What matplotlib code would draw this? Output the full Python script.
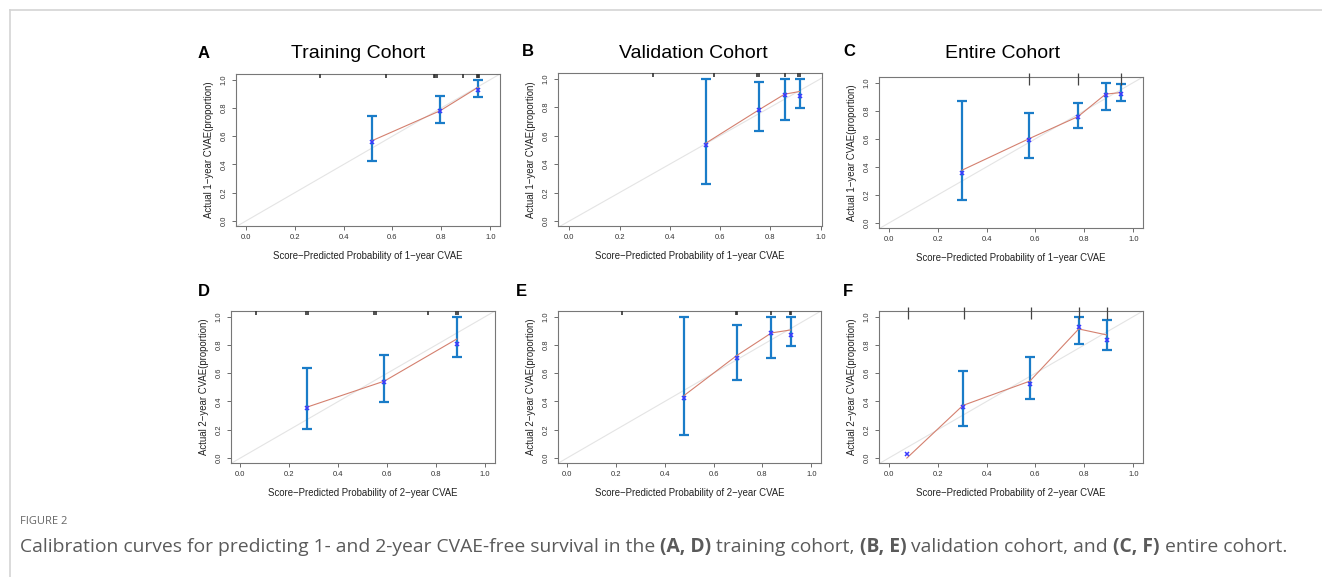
import numpy as np
import matplotlib.pyplot as plt
from matplotlib.lines import Line2D

plt.rcParams['font.family'] = ['Liberation Sans', 'DejaVu Sans']

W, H = 1322, 577

# --- datos ---
# A: training, 1 year
a_pred = [0.515, 0.795, 0.950]
a_obs = [0.558, 0.778, 0.929]
a_app = [0.567, 0.780, 0.946]
a_lo = [0.423, 0.695, 0.877]
a_hi = [0.740, 0.882, 1.000]
a_rug = [0.303, 0.575, 0.770, 0.776, 0.782, 0.887, 0.945, 0.950, 0.955]

# B: validation, 1 year
b_pred = [0.542, 0.753, 0.856, 0.916]
b_obs = [0.537, 0.778, 0.887, 0.875]
b_app = [0.546, 0.780, 0.891, 0.910]
b_lo = [0.258, 0.629, 0.707, 0.797]
b_hi = [1.000, 0.976, 1.000, 1.000]
b_rug = [0.334, 0.575, 0.748, 0.755, 0.856, 0.911, 0.918]

# C: entire, 1 year
c_pred = [0.299, 0.573, 0.774, 0.887, 0.948]
c_obs = [0.358, 0.591, 0.753, 0.913, 0.920]
c_app = [0.376, 0.600, 0.758, 0.918, 0.929]
c_lo = [0.162, 0.461, 0.675, 0.805, 0.871]
c_hi = [0.866, 0.784, 0.854, 0.998, 0.988]
c_rug = [0.575, 0.776, 0.948]

# D: training, 2 year
d_pred = [0.272, 0.588, 0.884]
d_obs = [0.351, 0.536, 0.807]
d_app = [0.360, 0.544, 0.842]
d_lo = [0.202, 0.395, 0.713]
d_hi = [0.635, 0.729, 0.995]
d_rug = [0.065, 0.268, 0.275, 0.547, 0.555, 0.765, 0.880, 0.887]

# E: validation, 2 year
e_pred = [0.479, 0.695, 0.837, 0.916]
e_obs = [0.424, 0.708, 0.882, 0.871]
e_app = [0.442, 0.725, 0.885, 0.906]
e_lo = [0.165, 0.555, 0.706, 0.795]
e_hi = [1.000, 0.944, 1.000, 1.000]
e_rug = [0.227, 0.692, 0.698, 0.837, 0.913, 0.919]

# F: entire, 2 year (primer punto sin barra visible)
f_pred = [0.074, 0.303, 0.577, 0.777, 0.891]
f_obs = [0.026, 0.360, 0.525, 0.925, 0.835]
f_app = [0.000, 0.372, 0.544, 0.913, 0.871]
f_lo = [0.026, 0.224, 0.416, 0.807, 0.767]
f_hi = [0.026, 0.619, 0.713, 1.000, 0.979]
f_rug = [0.078, 0.306, 0.580, 0.777, 0.891]

titles = ['Training Cohort', 'Validation Cohort', 'Entire Cohort']
ylab = ['Actual 1\u2212year CVAE(proportion)', 'Actual 2\u2212year CVAE(proportion)']
xlab = ['Score\u2212Predicted Probability of 1\u2212year CVAE',
        'Score\u2212Predicted Probability of 2\u2212year CVAE']

fig = plt.figure(figsize=(W / 100, H / 100), dpi=100)


def px_axes(l, t, r, b):
    return fig.add_axes([l / W, 1 - b / H, (r - l) / W, (b - t) / H])


def panel(box, xlim, pred, obs, app, lo, hi, rug, row, rug_out=False):
    ax = px_axes(*box)
    ax.set_xlim(*xlim)
    ax.set_ylim(-0.035, 1.04)
    ax.axline((0, 0), (1, 1), color='#e4e4e4', lw=0.8, zorder=1)
    pred, obs, lo, hi = map(np.array, (pred, obs, lo, hi))
    has_bar = hi > lo
    yerr = [obs[has_bar] - lo[has_bar], hi[has_bar] - obs[has_bar]]
    ax.errorbar(pred[has_bar], obs[has_bar], yerr=yerr, fmt='none', ecolor='#1a7cc8',
                elinewidth=1.6, capsize=3.5, capthick=1.6, zorder=2)
    ax.plot(pred, app, color='#d4806f', lw=0.8, zorder=3)
    ax.plot(pred, obs, 'x', color='#3a3aff', ms=3.5, mew=1.1, zorder=4)
    if rug_out:
        ax.vlines(rug, 0.985, 1.07, color='#444444', lw=0.9, clip_on=False, zorder=5)
    else:
        ax.vlines(rug, 1.01, 1.04, color='#333333', lw=1.2, zorder=5)
    ticks = [0, 0.2, 0.4, 0.6, 0.8, 1.0]
    ax.set_xticks(ticks)
    ax.set_yticks(ticks)
    ax.set_xticklabels([f'{t:.1f}' for t in ticks])
    ax.set_yticklabels([f'{t:.1f}' for t in ticks], rotation=90, va='center')
    ax.tick_params(labelsize=5.5, length=3, width=0.6, color='#555555',
                   labelcolor='#333333', pad=3)
    for s in ax.spines.values():
        s.set_color('#777777')
        s.set_linewidth(0.8)
    ax.set_xlabel(xlab[row], fontsize=6.9, labelpad=7, color='#222222')
    ax.set_ylabel(ylab[row], fontsize=6.9, labelpad=5, color='#222222')
    return ax


panel((236, 74, 500, 226), (-0.04, 1.04), a_pred, a_obs, a_app, a_lo, a_hi, a_rug, 0)
panel((558, 73, 822, 226), (-0.045, 1.005), b_pred, b_obs, b_app, b_lo, b_hi, b_rug, 0)
panel((879, 77, 1143, 228), (-0.04, 1.04), c_pred, c_obs, c_app, c_lo, c_hi, c_rug, 0, True)
panel((231, 311, 495, 463), (-0.038, 1.04), d_pred, d_obs, d_app, d_lo, d_hi, d_rug, 1)
panel((558, 311, 821, 463), (-0.037, 1.04), e_pred, e_obs, e_app, e_lo, e_hi, e_rug, 1)
panel((879, 311, 1143, 463), (-0.04, 1.04), f_pred, f_obs, f_app, f_lo, f_hi, f_rug, 1, True)

# titulos y letras
for x, t in zip([358, 693, 1003], titles):
    fig.text(x / W, 1 - 54 / H, t, fontsize=14, ha='center', va='center')
for x, y, l in [(204, 54, 'A'), (528, 52, 'B'), (849, 52, 'C'),
                (204, 292, 'D'), (521, 292, 'E'), (848, 292, 'F')]:
    fig.text(x / W, 1 - y / H, l, fontsize=12, weight='bold', ha='center', va='center')

# marco
fig.add_artist(Line2D([10 / W, 1], [1 - 10 / H, 1 - 10 / H], color='#d4d4d4', lw=1.2))
fig.add_artist(Line2D([10 / W, 10 / W], [0, 1 - 10 / H], color='#d4d4d4', lw=1.2))

# pie de figura
cap_font = ['Open Sans', 'DejaVu Sans']
fig.text(20 / W, 1 - 521 / H, 'FIGURE 2', fontsize=8, color='#666666',
         family=cap_font, va='center')
parts = [('Calibration curves for predicting 1- and 2-year CVAE-free survival in the ', 'normal'),
         ('(A, D)', 'bold'), (' training cohort, ', 'normal'), ('(B, E)', 'bold'),
         (' validation cohort, and ', 'normal'), ('(C, F)', 'bold'), (' entire cohort.', 'normal')]
renderer = fig.canvas.get_renderer()
xpos = 20
for txt, wt in parts:
    t = fig.text(xpos / W, 1 - 547 / H, txt, fontsize=13.85, color='#5a5a5a',
                 family=cap_font, weight=wt, va='center')
    bb = t.get_window_extent(renderer=renderer)
    xpos += bb.width

fig.savefig('out.png', dpi=100)
